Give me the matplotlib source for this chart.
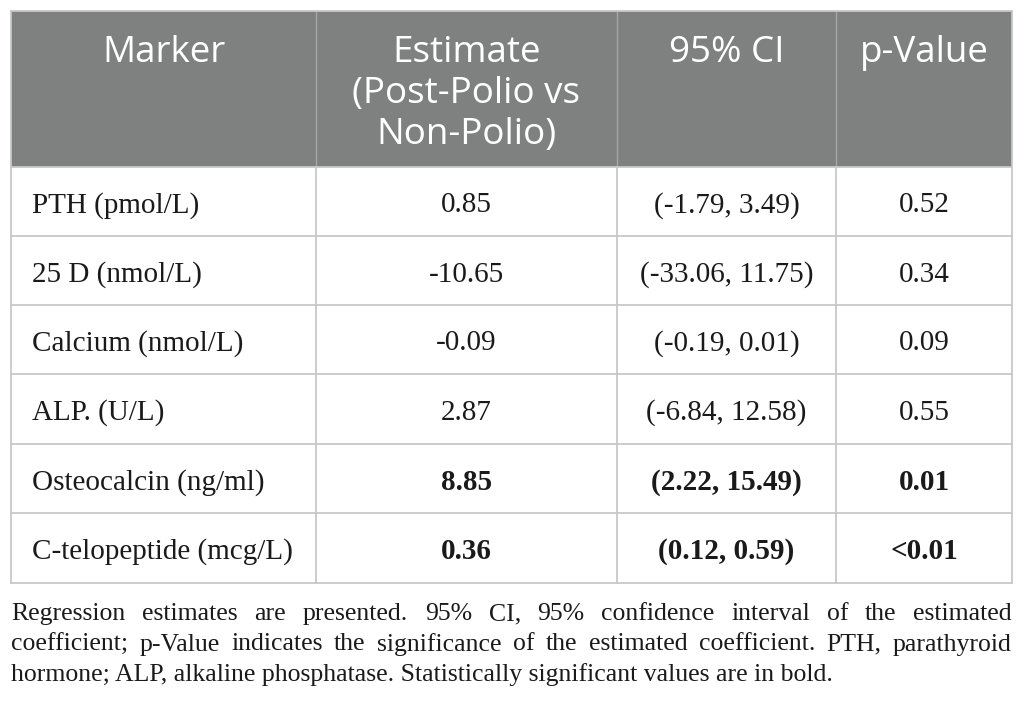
import matplotlib
matplotlib.use("Agg")
import matplotlib.pyplot as plt
from matplotlib.patches import Rectangle

# table content
headers = ["Marker", "Estimate\n(Post-Polio vs\nNon-Polio)", "95% CI", "p-Value"]
markers = ["PTH (pmol/L)", "25 D (nmol/L)", "Calcium (nmol/L)", "ALP. (U/L)",
           "Osteocalcin (ng/ml)", "C-telopeptide (mcg/L)"]
estimates = ["0.85", "-10.65", "-0.09", "2.87", "8.85", "0.36"]
ci = ["(-1.79, 3.49)", "(-33.06, 11.75)", "(-0.19, 0.01)", "(-6.84, 12.58)",
      "(2.22, 15.49)", "(0.12, 0.59)"]
p_values = ["0.52", "0.34", "0.09", "0.55", "0.01", "<0.01"]
significant = [False, False, False, False, True, True]

caption_lines = [
    "Regression estimates are presented. 95% CI, 95% confidence interval of the estimated",
    "coefficient; p-Value indicates the significance of the estimated coefficient. PTH, parathyroid",
    "hormone; ALP, alkaline phosphatase. Statistically significant values are in bold.",
]

# layout (pixels)
W, H = 1026, 707
col_x = [11, 316, 617, 836, 1012]
row_y = [11, 167, 236, 305, 374, 444, 513, 583]
header_col = "#7f8080"
grid_col = "#c8c8c8"
text_col = "#1a1a1a"
head_font = "Open Sans"
body_font = "Liberation Serif"

fig = plt.figure(figsize=(W / 100, H / 100), dpi=100)
ax = fig.add_axes([0, 0, 1, 1])
ax.set_xlim(0, W)
ax.set_ylim(H, 0)
ax.axis("off")

# header band
ax.add_patch(Rectangle((col_x[0], row_y[0]), col_x[-1] - col_x[0], row_y[1] - row_y[0],
                       facecolor=header_col, edgecolor="none"))
for x in col_x[1:-1]:
    ax.plot([x, x], [row_y[0], row_y[1]], color="#a6a6a6", lw=1.0)

for j, h in enumerate(headers):
    cx = (col_x[j] + col_x[j + 1]) / 2
    for k, line in enumerate(h.split("\n")):
        ax.text(cx, 62 + k * 41, line, ha="center", va="baseline", color="white",
                fontsize=26.5, family=head_font)

# body grid
for y in row_y[1:]:
    ax.plot([col_x[0], col_x[-1]], [y, y], color=grid_col, lw=1.3)
for x in col_x:
    ax.plot([x, x], [row_y[1], row_y[-1]], color=grid_col, lw=1.3)
ax.plot([col_x[0], col_x[0]], [row_y[0], row_y[1]], color=grid_col, lw=1.3)
ax.plot([col_x[-1], col_x[-1]], [row_y[0], row_y[1]], color=grid_col, lw=1.3)
ax.plot([col_x[0], col_x[-1]], [row_y[0], row_y[0]], color=grid_col, lw=1.3)

for i in range(len(markers)):
    base = (row_y[i + 1] + row_y[i + 2]) / 2 + 11
    wt = "bold" if significant[i] else "normal"
    ax.text(col_x[0] + 21, base, markers[i], ha="left", va="baseline",
            fontsize=21, family=body_font, color=text_col)
    for j, vals in enumerate([estimates, ci, p_values], start=1):
        cx = (col_x[j] + col_x[j + 1]) / 2
        ax.text(cx, base, vals[i], ha="center", va="baseline", fontsize=21,
                family=body_font, weight=wt, color=text_col)

# caption, justified
fig.canvas.draw()
r = fig.canvas.get_renderer()
cap_size = 18.5
left, right = col_x[0], col_x[-1]
for k, line in enumerate(caption_lines):
    y = 620 + k * 30.5
    if k == len(caption_lines) - 1:
        ax.text(left, y, line, ha="left", va="baseline", fontsize=cap_size,
                family=body_font, color=text_col)
        continue
    words = line.split(" ")
    widths = []
    for w in words:
        t = ax.text(0, 0, w, fontsize=cap_size, family=body_font)
        widths.append(t.get_window_extent(r).width)
        t.remove()
    gap = (right - left - sum(widths)) / (len(words) - 1)
    x = left
    for w, wd in zip(words, widths):
        ax.text(x, y, w, ha="left", va="baseline", fontsize=cap_size,
                family=body_font, color=text_col)
        x += wd + gap

fig.savefig("out.png", dpi=100)
